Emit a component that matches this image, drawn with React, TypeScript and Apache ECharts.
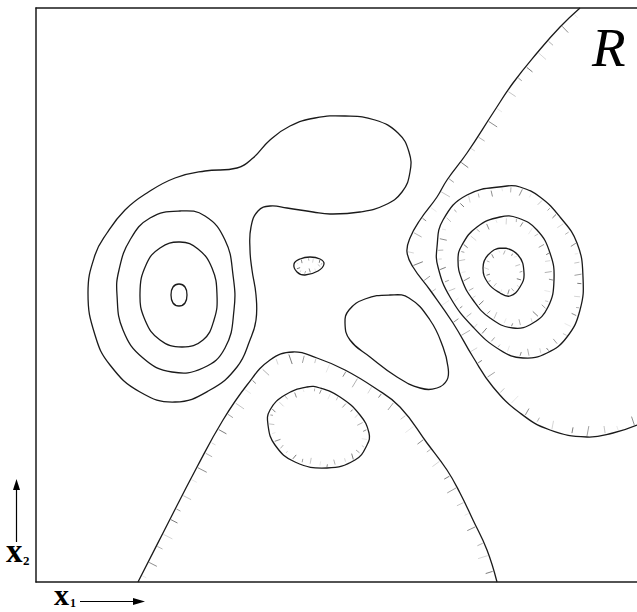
import React, { useEffect, useRef } from "react";
import * as echarts from "echarts";

type Pt = [number, number];

// Axis extents (x1 horizontal, x2 vertical), in plot units
const X1_MAX = 601;
const X2_MAX = 574;

// Contour lines (x1, x2) — closed loops do not repeat their first point
const outerLeft: Pt[] = [
  [52, 289], [59, 327], [71, 349], [89, 372], [111, 389], [139, 404], [169, 411], [201, 414],
  [217, 424], [234, 442], [254, 456], [279, 464], [309, 466], [339, 462], [362, 449], [373, 430],
  [374, 410], [366, 390], [349, 377], [324, 370], [294, 368], [277, 370], [251, 374], [234, 376],
  [222, 371], [215, 355], [214, 332], [216, 312], [220, 287], [220, 262], [214, 242], [201, 215],
  [174, 192], [139, 180], [104, 190], [74, 217], [59, 247],
];
const leftRing2: Pt[] = [
  [144, 371], [114, 364], [94, 342], [83, 312], [81, 287], [87, 252], [107, 224], [136, 210],
  [167, 214], [189, 234], [198, 272], [197, 307], [189, 342], [169, 366],
];
const leftRing3: Pt[] = [
  [144, 340], [124, 334], [110, 317], [104, 289], [109, 262], [124, 242], [146, 235], [167, 242],
  [178, 262], [181, 287], [176, 314], [162, 333],
];
const leftPeak: Pt[] = [
  [143, 298], [137, 295], [135, 287], [137, 279], [143, 276], [149, 279], [151, 287], [149, 295],
];
const smallDip: Pt[] = [
  [258, 318], [264, 323], [274, 325], [284, 323], [288, 318], [282, 311], [269, 307], [261, 310],
];
const middleLobe: Pt[] = [
  [309, 259], [313, 272], [329, 283], [354, 287], [373, 284], [394, 262], [407, 235], [412, 215],
  [411, 202], [401, 194], [384, 194], [361, 205], [334, 225], [314, 242],
];
const rightBoundary: Pt[] = [
  [544, 574], [524, 555], [501, 529], [477, 499], [457, 469], [431, 429], [411, 402], [401, 385],
  [384, 362], [374, 344], [371, 330], [377, 315], [394, 292], [417, 259], [437, 225], [457, 195],
  [484, 169], [514, 152], [551, 145], [577, 149], [601, 157],
];
const rightRing1: Pt[] = [
  [471, 396], [431, 387], [407, 362], [401, 335], [402, 315], [414, 285], [437, 255], [464, 232],
  [487, 224], [511, 229], [531, 245], [544, 272], [547, 305], [541, 339], [524, 365], [504, 385],
  [484, 395],
];
const rightRing2: Pt[] = [
  [464, 365], [441, 355], [426, 337], [422, 322], [426, 302], [437, 282], [454, 264], [477, 254],
  [497, 259], [512, 275], [518, 302], [514, 329], [501, 352], [482, 364],
];
const rightRing3: Pt[] = [
  [466, 334], [452, 327], [447, 314], [452, 299], [464, 289], [474, 286], [484, 295], [488, 309],
  [482, 327],
];
const bottomBoundary: Pt[] = [
  [102, 0], [127, 49], [161, 115], [187, 162], [211, 197], [234, 222], [257, 230], [281, 224],
  [309, 212], [339, 194], [364, 175], [391, 139], [411, 112], [424, 89], [437, 62], [451, 32],
  [461, 0],
];
const bottomDip: Pt[] = [
  [271, 195], [249, 187], [234, 172], [232, 157], [239, 137], [259, 120], [291, 114], [319, 122],
  [331, 137], [333, 149], [324, 167], [304, 185], [284, 194],
];

type Hatch = "none" | "in" | "right" | "left";
interface Contour { pts: Pt[]; closed: boolean; hatch: Hatch; gap: number; len: number }

const contours: Contour[] = [
  { pts: outerLeft, closed: true, hatch: "none", gap: 0, len: 0 },
  { pts: leftRing2, closed: true, hatch: "none", gap: 0, len: 0 },
  { pts: leftRing3, closed: true, hatch: "none", gap: 0, len: 0 },
  { pts: leftPeak, closed: true, hatch: "none", gap: 0, len: 0 },
  { pts: smallDip, closed: true, hatch: "in", gap: 6, len: 4 },
  { pts: middleLobe, closed: true, hatch: "none", gap: 0, len: 0 },
  { pts: rightBoundary, closed: false, hatch: "right", gap: 17, len: 10 },
  { pts: rightRing1, closed: true, hatch: "in", gap: 11, len: 7 },
  { pts: rightRing2, closed: true, hatch: "in", gap: 10, len: 7 },
  { pts: rightRing3, closed: true, hatch: "in", gap: 8, len: 5 },
  { pts: bottomBoundary, closed: false, hatch: "left", gap: 15, len: 10 },
  { pts: bottomDip, closed: true, hatch: "in", gap: 9, len: 6 },
];

export default function App() {
  const ref = useRef<HTMLDivElement>(null);
  useEffect(() => {
    if (!ref.current) return;
    const chart = echarts.init(ref.current, null, { renderer: "svg" });
    const axisLine = { show: true, onZero: false, lineStyle: { color: "#1a1a1a", width: 1.5 } };
    const hidden = {
      axisTick: { show: false },
      axisLabel: { show: false },
      splitLine: { show: false },
    };
    const renderItem = (params: any, api: any) => {
      const c = contours[params.dataIndex];
      const px: number[][] = c.pts.map((p) => api.coord(p));
      const children: any[] = [];
      const lineStyle = { fill: "none", stroke: "#1a1a1a", lineWidth: 1.3 };
      children.push(
        c.closed
          ? { type: "polygon", shape: { points: px, smooth: 0.45 }, style: lineStyle }
          : { type: "polyline", shape: { points: px, smooth: 0.45 }, style: lineStyle }
      );
      if (c.hatch !== "none") {
        let cx = 0, cy = 0;
        px.forEach((p) => { cx += p[0]; cy += p[1]; });
        cx /= px.length; cy /= px.length;
        const segs: [number[], number[]][] = [];
        for (let i = 0; i < px.length - 1; i++) segs.push([px[i], px[i + 1]]);
        if (c.closed) segs.push([px[px.length - 1], px[0]]);
        let carry = c.gap / 2;
        let k = 0;
        segs.forEach(([a, b]) => {
          const dx = b[0] - a[0], dy = b[1] - a[1];
          const L = Math.hypot(dx, dy);
          if (L === 0) return;
          const tx = dx / L, ty = dy / L;
          let d = carry;
          while (d < L) {
            const x = a[0] + tx * d, y = a[1] + ty * d;
            let nx = ty, ny = -tx;
            if (c.hatch === "left") { nx = -nx; ny = -ny; }
            if (c.hatch === "in" && nx * (cx - x) + ny * (cy - y) < 0) { nx = -nx; ny = -ny; }
            const len = c.len * (0.45 + 0.14 * ((k * 3) % 5));
            const op = 0.15 + 0.11 * ((k * 5) % 7);
            children.push({
              type: "line",
              shape: { x1: x + nx * 1, y1: y + ny * 1, x2: x + nx * (1 + len), y2: y + ny * (1 + len) },
              style: { stroke: "#333", lineWidth: 0.8, opacity: op },
            });
            k++;
            d += c.gap * (0.8 + 0.1 * ((k * 2) % 5));
          }
          carry = d - L;
        });
      }
      return { type: "group", children };
    };

    const arrowStyle = { stroke: "#000", lineWidth: 1.2 };
    chart.setOption({
      animation: false,
      grid: { left: 36, right: 0, top: 8, bottom: 30, containLabel: false },
      xAxis: [
        { type: "value", min: 0, max: X1_MAX, position: "bottom", axisLine, ...hidden },
        { type: "value", min: 0, max: X1_MAX, position: "top", axisLine, ...hidden },
      ],
      yAxis: { type: "value", min: 0, max: X2_MAX, axisLine, ...hidden },
      series: [
        {
          type: "custom",
          xAxisIndex: 0,
          yAxisIndex: 0,
          clip: false,
          silent: true,
          renderItem,
          data: contours.map((c) => c.pts[0]),
        },
      ],
      graphic: [
        {
          type: "text",
          style: { x: 592, y: 47, text: "R", font: 'italic 55px "Liberation Serif"', fill: "#000", verticalAlign: "middle", align: "left" },
        },
        { type: "line", shape: { x1: 16.5, y1: 542, x2: 16.5, y2: 486 }, style: arrowStyle },
        { type: "polygon", shape: { points: [[16.5, 479], [13, 490], [20, 490]] }, style: { fill: "#000" } },
        {
          type: "text",
          style: { x: 6, y: 551, text: "x", font: 'bold 33px "Liberation Serif"', lineHeight: 20, fill: "#000", verticalAlign: "middle" },
        },
        {
          type: "text",
          style: { x: 23, y: 560, text: "2", font: 'bold 13px "Liberation Serif"', lineHeight: 12, fill: "#000", verticalAlign: "middle" },
        },
        { type: "line", shape: { x1: 80, y1: 601.5, x2: 136, y2: 601.5 }, style: arrowStyle },
        { type: "polygon", shape: { points: [[145, 601.5], [133, 598], [133, 605]] }, style: { fill: "#000" } },
        {
          type: "text",
          style: { x: 54, y: 594, text: "x", font: 'bold 30px "Liberation Serif"', lineHeight: 18, fill: "#000", verticalAlign: "middle" },
        },
        {
          type: "text",
          style: { x: 70, y: 603, text: "1", font: 'bold 12px "Liberation Serif"', lineHeight: 11, fill: "#000", verticalAlign: "middle" },
        },
      ],
    });
    return () => chart.dispose();
  }, []);
  return (
    <div
      ref={ref}
      style={{ position: "fixed", left: 0, top: 0, width: 637, height: 612, background: "#fff" }}
    />
  );
}
